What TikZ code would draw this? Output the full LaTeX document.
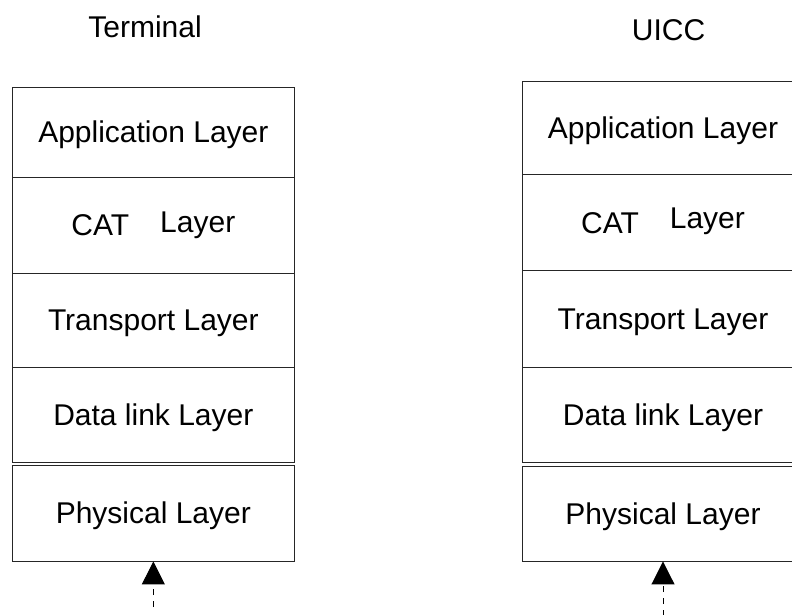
\documentclass[tikz,border=0pt]{standalone}
\usepackage{fontspec}
\setmainfont{Liberation Sans}
\usetikzlibrary{arrows.meta}
\tikzset{
  layer/.style={draw=black!85, line width=0.9pt, rectangle, inner sep=0pt,
    text height=21.5pt, text depth=0pt, font=\fontsize{30}{35}\selectfont},
  title/.style={anchor=base, inner sep=0pt, font=\fontsize{30}{35}\selectfont},
  updash/.style={draw=black, line width=1pt, dash pattern=on 6pt off 6pt,
    -{Triangle[length=23pt,width=23pt]}}
}
\newcommand{\catlayer}[1]{CAT\hspace{31pt}\raisebox{#1}{Layer}}
\begin{document}
\begin{tikzpicture}[x=1pt,y=-1pt]
\useasboundingbox (0,0) rectangle (792,614);
\clip (0,0) rectangle (792,614);
\fill[white] (0,0) rectangle (792,614);
% titles
\node[title] (tterm) at (145,37) {Terminal};
\node[title] (tuicc) at (668.5,40) {UICC};
% left stack (x 12.7 .. 294)
\node[layer, minimum width=281.3pt, minimum height=90pt] (appL) at (153.35,132) {Application Layer};
\node[layer, minimum width=281.3pt, minimum height=96pt] (catL) at (153.35,225) {\catlayer{3pt}};
\node[layer, minimum width=281.3pt, minimum height=94pt] (trL) at (153.35,320) {Transport Layer};
\node[layer, minimum width=281.3pt, minimum height=95pt] (dlL) at (153.35,414.5) {Data link Layer};
\node[layer, minimum width=281.3pt, minimum height=96pt] (phL) at (153.35,513) {Physical Layer};
% right stack (x 522.7 .. 803.3)
\node[layer, minimum width=280.6pt, minimum height=93pt] (appR) at (663,127.5) {Application Layer};
\node[layer, minimum width=280.6pt, minimum height=96.7pt] (catR) at (663,222.35) {\catlayer{5pt}};
\node[layer, minimum width=280.6pt, minimum height=96.3pt] (trR) at (663,318.85) {Transport Layer};
\node[layer, minimum width=280.6pt, minimum height=95pt] (dlR) at (663,414.5) {Data link Layer};
\node[layer, minimum width=280.6pt, minimum height=95pt] (phR) at (663,513.5) {Physical Layer};
% arrows
\coordinate (inL) at (153.35,607);
\coordinate (inR) at (663,616);
\draw[updash] (inL) -- (phL.south);
\draw[updash] (inR) -- (phR.south);
\end{tikzpicture}
\end{document}
